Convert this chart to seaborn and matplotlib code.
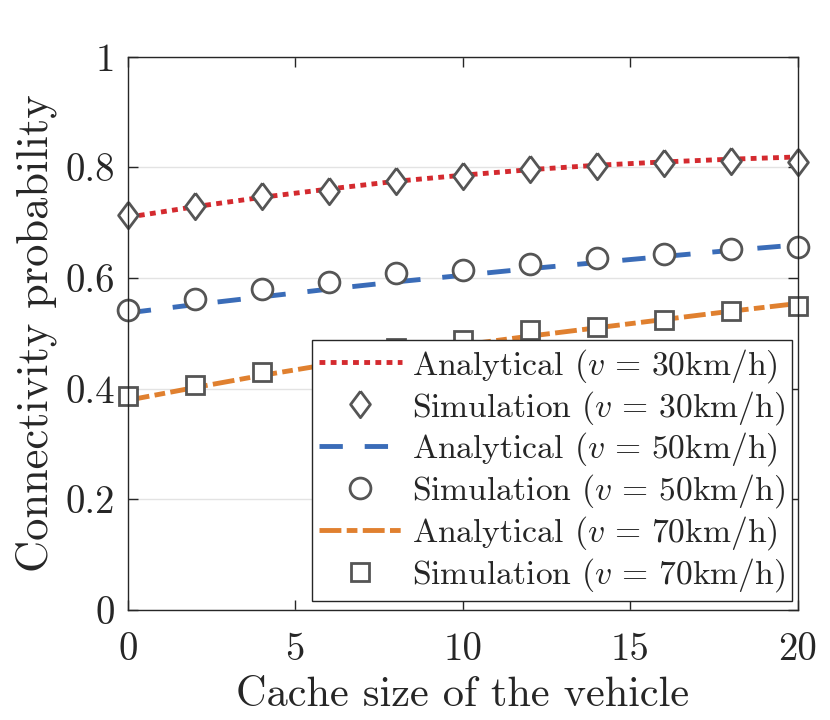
import numpy as np
import pandas as pd
import matplotlib
matplotlib.use('Agg')
import matplotlib.pyplot as plt
import seaborn as sns

# %%
cache_size = [0, 2, 4, 6, 8, 10, 12, 14, 16, 18, 20]

ana_30 = [0.710, 0.729, 0.746, 0.761, 0.775, 0.786, 0.796, 0.804, 0.810, 0.815, 0.819]
sim_30 = [0.714, 0.731, 0.749, 0.758, 0.775, 0.785, 0.797, 0.803, 0.808, 0.811, 0.809]
ana_50 = [0.537, 0.552, 0.566, 0.580, 0.593, 0.605, 0.617, 0.628, 0.639, 0.650, 0.660]
sim_50 = [0.542, 0.562, 0.580, 0.592, 0.609, 0.615, 0.626, 0.636, 0.644, 0.652, 0.656]
ana_70 = [0.379, 0.402, 0.424, 0.444, 0.462, 0.479, 0.495, 0.510, 0.525, 0.540, 0.554]
sim_70 = [0.387, 0.406, 0.430, 0.452, 0.473, 0.488, 0.506, 0.511, 0.524, 0.541, 0.550]

labels = [r'Analytical ($v\,=\,30$km/h)', r'Simulation ($v\,=\,30$km/h)',
          r'Analytical ($v\,=\,50$km/h)', r'Simulation ($v\,=\,50$km/h)',
          r'Analytical ($v\,=\,70$km/h)', r'Simulation ($v\,=\,70$km/h)']

xticks = [0, 5, 10, 15, 20]
xticklabels = ['0', '5', '10', '15', '20']
yticks = [0, 0.2, 0.4, 0.6, 0.8, 1.0]
yticklabels = ['0', '0.2', '0.4', '0.6', '0.8', '1']

# %%
sns.set_style('ticks')
plt.rcParams['font.family'] = ['cmr10', 'DejaVu Serif']
plt.rcParams['mathtext.fontset'] = 'cm'
plt.rcParams['axes.formatter.use_mathtext'] = True

red = '#d42a2f'
blue = '#3a6cb8'
orange = '#e0802f'
mk_edge = '#555555'
diamond = [(0, 1), (0.75, 0), (0, -1), (-0.75, 0), (0, 1)]

fig = plt.figure(figsize=(8.3, 7.2), dpi=100)
ax = fig.add_axes([0.154, 0.153, 0.807, 0.768])

ax.yaxis.grid(True, color='#e3e3e3', lw=1.0)
ax.xaxis.grid(False)
ax.set_axisbelow(True)

series = [(ana_30, sim_30, red, (0, (1.2, 1.1)), diamond, 19),
          (ana_50, sim_50, blue, (0, (4.8, 4.5)), 'o', 15),
          (ana_70, sim_70, orange, (0, (4.5, 1.1, 2.2, 1.1)), 's', 12.5)]

for i, (ana, sim, col, ls, mk, ms) in enumerate(series):
    sns.lineplot(x=cache_size, y=ana, color=col, lw=3.5, linestyle=ls,
                 label=labels[2 * i], ax=ax)
    sns.lineplot(x=cache_size, y=sim, color=mk_edge, linestyle='', marker=mk,
                 markersize=ms, markerfacecolor='white', markeredgecolor=mk_edge,
                 markeredgewidth=2.0, label=labels[2 * i + 1], ax=ax)

for ln in ax.get_lines():
    ln.set_clip_on(False)

ax.set_xlim(0, 20)
ax.set_ylim(0, 1)
ax.set_xticks(xticks)
ax.set_xticklabels(xticklabels)
ax.set_yticks(yticks)
ax.set_yticklabels(yticklabels)
ax.tick_params(direction='in', length=7, width=1, color='#262626',
               top=True, right=True, labelsize=28, labelcolor='#262626')
ax.tick_params(axis='x', pad=16)
ax.tick_params(axis='y', pad=9)
for s in ax.spines.values():
    s.set_color('#262626')
    s.set_linewidth(1.0)

ax.set_xlabel('Cache size of the vehicle', fontsize=30.5, color='#262626', labelpad=6)
ax.set_ylabel('Connectivity probability', fontsize=32, color='#262626', labelpad=6)

leg = ax.legend(loc='lower right', bbox_to_anchor=(0.991, 0.016), borderaxespad=0,
                fontsize=24.2, handlelength=2.45, handletextpad=0.3, labelspacing=0.12,
                borderpad=0.2, frameon=True, fancybox=False, framealpha=1,
                edgecolor='#262626')
leg.get_frame().set_linewidth(1.0)
for t in leg.get_texts():
    t.set_color('#262626')

fig.savefig('out.png', dpi=100)
